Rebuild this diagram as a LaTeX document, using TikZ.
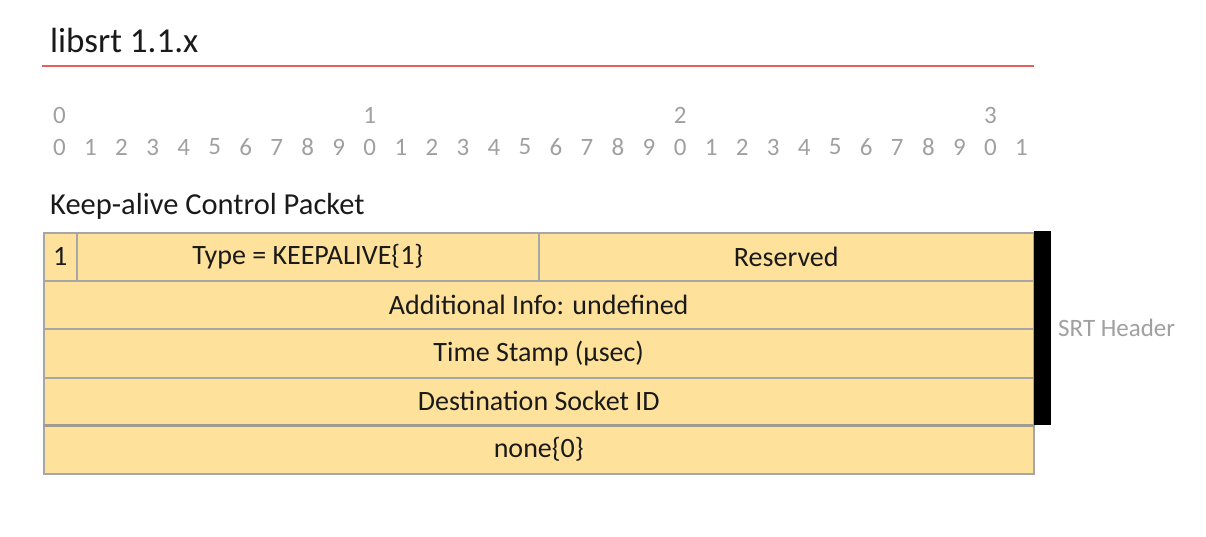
\documentclass[tikz,border=0pt]{standalone}
\usepackage{fontspec}
\setmainfont{Carlito}
\definecolor{cellfill}{HTML}{FEE29B}
\definecolor{cellline}{HTML}{A6A6A6}
\definecolor{sepline}{HTML}{A19C92}
\definecolor{rulergray}{HTML}{A0A0A0}
\definecolor{titlered}{HTML}{E85D5D}
\definecolor{txt}{HTML}{1A1A1A}
\tikzset{
  cell/.style={draw=cellline, fill=cellfill, line width=1.5pt, anchor=north west, inner sep=0pt, font=\fontsize{28}{31}\selectfont, text=txt},
  digit/.style={font=\fontsize{25}{28}\selectfont, text=rulergray, inner sep=0pt},
}
\begin{document}
\begin{tikzpicture}[x=1pt,y=-1pt]
\useasboundingbox (0,0) rectangle (1206,536);
% title
\node[anchor=west, inner sep=0pt, font=\fontsize{35}{39}\selectfont, text=txt] (title) at (50,40) {libsrt 1.1.x};
\coordinate (rl) at (42,66);
\coordinate (rr) at (1034,66);
\draw[titlered, line width=2pt] (rl) -- (rr);
% ruler
\foreach \t [count=\i from 0] in {0,1,2,3} {
  \node[digit] (tens\i) at ({59.5+\i*310.3},115) {\t};
}
\foreach \i in {0,...,31} {
  \pgfmathtruncatemacro{\d}{mod(\i,10)}
  \node[digit] (unit\i) at ({59.5+\i*31.03},147) {\d};
}
% packet name
\node[anchor=west, inner sep=0pt, font=\fontsize{30.5}{34}\selectfont, text=txt] (pname) at (50,206) {Keep-alive Control Packet};
% table
\node[cell, minimum width=33pt, minimum height=48pt] (flag) at (43,232) {1};
\node[cell, minimum width=462pt, minimum height=48pt] (type) at (76,232) {Type = KEEPALIVE\{1\}};
\node[cell, minimum width=495pt, minimum height=48pt] (resv) at (538,232) {Reserved};
\node[cell, minimum width=990pt, minimum height=48pt] (info) at (43,280) {Additional Info: undefined};
\node[cell, minimum width=990pt, minimum height=49pt] (ts) at (43,328) {Time Stamp (µsec)};
\node[cell, minimum width=990pt, minimum height=47pt] (dst) at (43,377) {Destination Socket ID};
\node[cell, minimum width=990pt, minimum height=49pt] (none) at (43,424) {none\{0\}};
\draw[sepline, line width=3.5pt] (dst.south west) -- (dst.south east);
% header bracket
\fill[black] (1034,231) rectangle (1051,425);
\node[anchor=west, inner sep=0pt, font=\fontsize{25}{28}\selectfont, text=rulergray] (hdr) at (1058,328) {SRT Header};
\end{tikzpicture}
\end{document}
